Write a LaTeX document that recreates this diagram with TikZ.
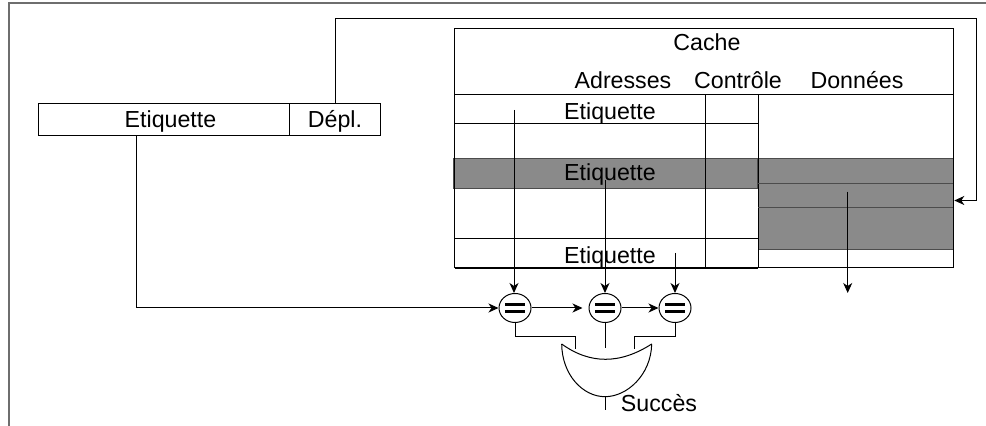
\documentclass[tikz,border=0pt]{standalone}
\usepackage{fontspec}
\setmainfont{Liberation Sans}
\usepackage{xcolor}
\definecolor{selGray}  {HTML}{8A8A8A}
\definecolor{frameGray}{HTML}{6E6E6E}
\usetikzlibrary{arrows.meta, positioning, calc, shapes.geometric}
\tikzset{
    lbl/.style={font=\fontsize{11.6}{13}\selectfont, inner sep=0pt},
    field/.style={draw, lbl, rectangle, minimum height=16pt,
                  text height=8.3pt, text depth=0pt},
    selrow/.style={draw=black!70, fill=selGray, rectangle, inner sep=0pt},
    cmpnode/.style={ellipse, draw, fill=white, inner sep=0pt,
                    minimum width=16pt, minimum height=14.5pt},
    wire/.style={-, line width=0.5pt},
    arr/.style={-{Stealth[length=5pt, width=4.5pt, inset=1.5pt]}, line width=0.5pt},
}
\begin{document}
\begin{tikzpicture}[x=0.5pt, y=-0.5pt, line width=0.5pt]
\useasboundingbox (0,0) rectangle (986,426);
% Frame (top and left edges only).
\draw[frameGray, line width=0.8pt] (9,426) -- (9,3.3) -- (986,3.3);
% Address: tag and offset fields.
\node[field, minimum width=125.5pt, anchor=north west] (tag) at (38,103) {\hspace*{6.5pt}Etiquette};
\node[field, minimum width=45.5pt, anchor=north west] (off) at (289,103) {Dépl.};
% Cache: selected set and selected block.
\node[selrow, minimum width=151.85pt, minimum height=15pt, anchor=north west] (tagsel) at (453.3,158.3) {};
\node[selrow, minimum width=97.65pt, minimum height=45.5pt, anchor=north west] (blk) at (758,158.3) {};
% Cache: outline and grid.
\draw (454.7,29) rectangle (953.3,267.7);
\draw (454.7,95) -- (953.3,95);
\draw (705.7,95) -- (705.7,267.7);
\draw (758,95) -- (758,267.7);
\draw (454.7,124) -- (758,124);
\draw (454.7,238.3) -- (758,238.3);
\draw[black!70] (758,183.7) -- (953.3,183.7);
\draw[black!70] (758,208) -- (953.3,208);
\draw[line width=1pt] (454.7,267.7) -- (758,267.7);
% Cache: headings and tags.
\node[lbl, anchor=base] (title) at (707,51) {Cache};
\node[lbl, anchor=base] (hadr) at (623,88.3) {Adresses};
\node[lbl, anchor=base] (hctl) at (738,88.3) {Contrôle};
\node[lbl, anchor=base] (hdon) at (857,88.3) {Données};
\node[lbl, anchor=base] (row1) at (610,119.5) {Etiquette};
\node[lbl, anchor=base] (rowsel) at (610,180.7) {Etiquette};
\node[lbl, anchor=base] (rowlast) at (610,263.7) {Etiquette};
% Comparators, each with its "=" bars.
\node[cmpnode] (cmp1) at (515,308) {};
\node[cmpnode] (cmp2) at (605,308) {};
\node[cmpnode] (cmp3) at (675,308) {};
\foreach \c in {cmp1, cmp2, cmp3} {
  \fill ([xshift=-5pt, yshift=1pt]\c.center) rectangle ++(10pt,1.7pt);
  \fill ([xshift=-5pt, yshift=-1pt]\c.center) rectangle ++(10pt,-1.7pt);
}
% Tag reads into the comparators.
\coordinate (rd1) at (514,110);
\coordinate (rd2) at (605,180);
\coordinate (rd3) at (675,253);
\draw[arr] (rd1) -- (rd1 |- cmp1.north);
\draw[arr] (rd2) -- (cmp2.north);
\draw[arr] (rd3) -- (cmp3.north);
\draw[arr] ($(tag.south west)!0.39!(tag.south east)$) |- (cmp1);
\draw[arr, shorten >=3pt] (cmp1) -- (cmp2);
\draw[arr] (cmp2) -- (cmp3);
% Offset selects the word; data out.
\coordinate (turn) at (976,18.3);
\draw[arr] (off.north) |- (turn) |- ([yshift=1.9pt]blk.east);
\coordinate (dsrc) at (847.7,191.7);
\coordinate (dout) at (847.7,293);
\draw[arr] (dsrc) -- (dout);
% OR gate.
\coordinate (gl) at (561.7,344);
\coordinate (gr) at (651.7,344);
\coordinate (gout) at (605,396.7);
\coordinate (g1) at (575.7,349);
\coordinate (g2) at (605,348);
\coordinate (g3) at (634.3,349);
\draw[wire] (gl) .. controls (590,364.4) and (620,364.4) .. (gr);
\draw[wire] (gl) .. controls (562,375) and (583,396.7) .. (gout)
                 .. controls (627,396.7) and (651,375) .. (gr);
\draw[wire] (cmp1.south) -- ++(0,13.5) -| (g1);
\draw[wire] (cmp2.south) -- (g2);
\draw[wire] (cmp3.south) -- ++(0,13.5) -| (g3);
\coordinate (sout) at (605,410);
\draw[wire] (gout) -- (sout);
\node[lbl, anchor=base] (ok) at (659,411.7) {Succès};
\end{tikzpicture}
\end{document}
